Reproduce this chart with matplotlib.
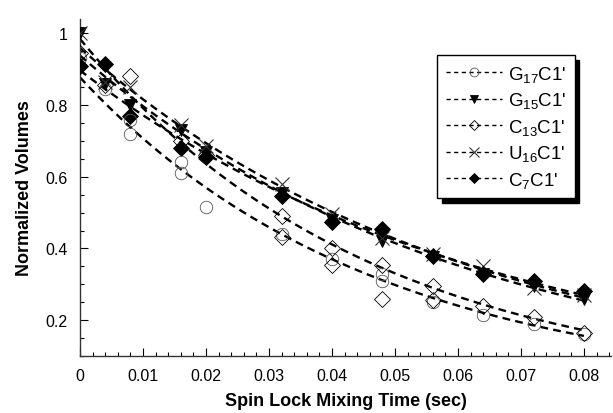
import numpy as np
import matplotlib
matplotlib.use("Agg")
import matplotlib.pyplot as plt
from matplotlib.lines import Line2D
from matplotlib.ticker import MultipleLocator

plt.rcParams['font.family'] = ['Liberation Sans', 'DejaVu Sans']
plt.rcParams['mathtext.fontset'] = 'custom'
plt.rcParams['mathtext.rm'] = 'Liberation Sans'
plt.rcParams['mathtext.it'] = 'Liberation Sans'
plt.rcParams['mathtext.default'] = 'regular'

# mixing times (sec)
times = [0, 0.004, 0.008, 0.016, 0.02, 0.032, 0.04, 0.048, 0.056, 0.064, 0.072, 0.08]

# normalized volumes
g17 = [0.93, 0.845, 0.72, 0.61, 0.515, 0.44, 0.37, 0.33, 0.25, 0.215, 0.19, 0.16]
g15 = [1.0, 0.86, 0.80, 0.73, 0.67, 0.555, 0.48, 0.42, 0.375, 0.33, 0.295, 0.258]
c13 = [0.945, 0.855, 0.88, 0.70, 0.66, 0.49, 0.40, 0.355, 0.295, 0.24, 0.21, 0.165]
u16 = [1.0, 0.865, 0.85, 0.745, 0.685, 0.58, 0.495, 0.43, 0.385, 0.35, 0.29, 0.27]
c7 = [0.91, 0.915, 0.77, 0.68, 0.655, 0.545, 0.475, 0.455, 0.38, 0.33, 0.31, 0.28]

# extra replicate points
g17_rep_t = [0.008, 0.016, 0.048]
g17_rep = [0.757, 0.64, 0.31]
c13_rep_t = [0.032, 0.04, 0.048, 0.056]
c13_rep = [0.433, 0.355, 0.258, 0.255]

labels = ["G$_{17}$C1'", "G$_{15}$C1'", "C$_{13}$C1'", "U$_{16}$C1'", "C$_{7}$C1'"]

fig = plt.figure(figsize=(6.13, 4.14), dpi=100)
ax = fig.add_axes([80/613, 57/414, 531/613, 337/414])

styles = [
    dict(marker='o', ms=9, mfc='none', mec='#555555', mew=0.6),
    dict(marker='v', ms=8.5, mfc='k', mec='k', mew=0.6),
    dict(marker='D', ms=8, mfc='none', mec='k', mew=0.6),
    dict(marker='x', ms=9.5, mfc='none', mec='#333333', mew=0.8),
    dict(marker='D', ms=8, mfc='k', mec='k', mew=0.6),
]

series = [g17, g15, c13, u16, c7]
t = np.array(times)
tt = np.linspace(0, 0.08, 200)
handles = []
for vals, st, lab in zip(series, styles, labels):
    v = np.array(vals)
    # single exponential fit
    k, b = np.polyfit(t, np.log(v), 1)
    ax.plot(tt, np.exp(b) * np.exp(k * tt), color='k', lw=1.7,
            linestyle=(0, (3.3, 2.2)), zorder=2)
    ax.plot(t, v, linestyle='none', zorder=3, **st)
    handles.append(Line2D([], [], color='k', lw=1.0, linestyle=(0, (3, 2.5)),
                          label=lab, **{**st, 'ms': st['ms'] * 0.7}))

ax.plot(g17_rep_t, g17_rep, linestyle='none', zorder=3, **styles[0])
ax.plot(c13_rep_t, c13_rep, linestyle='none', zorder=3, **styles[2])

ax.set_xlim(0, 0.0843)
ax.set_ylim(0.1, 1.04)
ax.xaxis.set_minor_locator(MultipleLocator(0.002))
ax.yaxis.set_minor_locator(MultipleLocator(0.05))
ax.set_xticks([0, 0.01, 0.02, 0.03, 0.04, 0.05, 0.06, 0.07, 0.08])
ax.set_xticklabels(['0', '0.01', '0.02', '0.03', '0.04', '0.05', '0.06', '0.07', '0.08'])
ax.set_yticks([0.2, 0.4, 0.6, 0.8, 1.0])
ax.set_yticklabels(['0.2', '0.4', '0.6', '0.8', '1'])
ax.tick_params(which='both', direction='in', labelsize=11.5, width=0.8)
ax.tick_params(which='major', length=6, pad=9)
ax.tick_params(which='minor', length=3)
ax.tick_params(axis='y', pad=9)

for s in ['top', 'right']:
    ax.spines[s].set_visible(False)
for s in ['left', 'bottom']:
    ax.spines[s].set_linewidth(1.0)
    ax.spines[s].set_color('#333333')

ax.set_xlabel("Spin Lock Mixing Time (sec)", fontsize=13, fontweight='bold', labelpad=6)
ax.set_ylabel("Normalized Volumes", fontsize=13, fontweight='bold', labelpad=9)

leg = ax.legend(handles=handles, loc='upper right', bbox_to_anchor=(0.949, 0.92),
                fontsize=13.5, frameon=True, fancybox=False, handlelength=3.0,
                labelspacing=0.35, borderpad=0.45, handletextpad=0.3,
                shadow={'color': 'k', 'alpha': 1, 'ox': 3, 'oy': -3})
leg.get_frame().set_edgecolor('k')
leg.get_frame().set_linewidth(1.0)

plt.savefig("out.png", dpi=100)
